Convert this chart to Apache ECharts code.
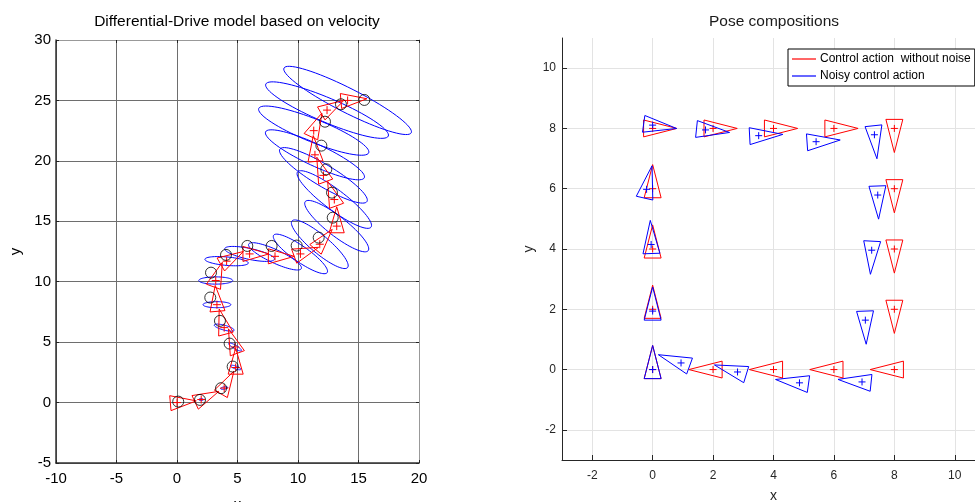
<!DOCTYPE html>
<html>
<head>
<meta charset="utf-8">
<script src="https://cdn.jsdelivr.net/npm/echarts@6/dist/echarts.min.js"></script>
<style>
  html, body { margin: 0; padding: 0; background: #fff; }
  #main { width: 975px; height: 502px; }
</style>
</head>
<body>
<div id="main"></div>
<script>
// 左图: 真实位姿 (黑圈)
let trueX = [0.1, 1.9, 3.64, 4.6, 4.35, 3.55, 2.75, 2.81, 4.05, 5.81, 7.82, 9.89, 11.71, 12.87, 12.81, 12.34, 11.93, 12.23, 13.55, 15.48];
let trueY = [0.08, 0.22, 1.19, 2.98, 4.88, 6.76, 8.69, 10.75, 12.22, 12.96, 12.96, 12.99, 13.65, 15.3, 17.37, 19.3, 21.26, 23.24, 24.68, 25.04];
// 左图: 估计位姿 (红三角)
let estX = [0.0, 2.0, 3.9, 4.85, 4.8, 3.9, 3.3, 3.2, 4.1, 6.0, 8.1, 10.2, 11.8, 13.2, 13.0, 12.1, 11.4, 11.3, 12.4, 14.1];
let estY = [0.0, 0.25, 1.2, 2.9, 4.6, 6.2, 8.1, 10.1, 11.7, 12.3, 12.1, 12.3, 13.1, 14.6, 16.8, 18.8, 20.5, 22.5, 24.2, 25.0];
let estTh = [5, 25, 60, 90, 110, 105, 95, 70, 30, 0, 0, 20, 50, 90, 110, 110, 95, 65, 30, 5];
// 协方差椭圆
let ellA = [0, 0.2, 0.3, 0.45, 0.6, 0.85, 1.15, 1.4, 1.8, 2.1, 2.4, 2.7, 3.0, 3.3, 3.8, 4.2, 4.5, 4.9, 5.5, 5.9];
let ellB = [0, 0.08, 0.1, 0.12, 0.15, 0.2, 0.25, 0.3, 0.35, 0.45, 0.55, 0.65, 0.75, 0.8, 0.85, 0.9, 0.9, 0.95, 1.0, 1.0];
let ellAng = [0, 0, 10, -20, -30, -15, 0, 0, -5, -12, -25, -35, -40, -38, -37, -31, -25, -22, -23, -27];

// 右图: 无噪声控制 (红)
let ctrlX = [0, 0, 0, 0, 0, 2, 4, 6, 8, 8, 8, 8, 8, 6, 4, 2];
let ctrlY = [0, 2, 4, 6, 8, 8, 8, 8, 8, 6, 4, 2, 0, 0, 0, 0];
let ctrlTh = [90, 90, 90, 90, 0, 0, 0, 0, -90, -90, -90, -90, 180, 180, 180, 180];
// 右图: 有噪声控制 (蓝)
let noisyX = [0, 0, -0.05, -0.2, 0, 1.75, 3.51, 5.41, 7.34, 7.45, 7.25, 7.04, 6.93, 4.86, 2.81, 0.94];
let noisyY = [0, 1.94, 4.15, 5.98, 8.11, 7.95, 7.76, 7.56, 7.79, 5.79, 3.96, 1.64, -0.41, -0.44, -0.08, 0.22];
let noisyTh = [90, 90, 92, 77, -8, -6, 3, 4, -84, -88, -93, -88, 174, 172, 163, 160];

let leftTicks = [-10, -5, 0, 5, 10, 15, 20];
let rightTicks = [-2, 0, 2, 4, 6, 8, 10];

function rows() {
    let arrs = arguments, out = [];
    for (let i = 0; i < arrs[0].length; i++) {
        let r = [];
        for (let k = 0; k < arrs.length; k++) r.push(arrs[k][i]);
        out.push(r);
    }
    return out;
}

// 三角形 (朝向)
function triRender(fwd, back, hw, color) {
    return function (params, api) {
        let x = api.value(0), y = api.value(1), t = api.value(2) * Math.PI / 180;
        let c = Math.cos(t), s = Math.sin(t);
        let local = [[fwd, 0], [-back, hw], [-back, -hw]];
        let pts = local.map(function (p) {
            return api.coord([x + p[0] * c - p[1] * s, y + p[0] * s + p[1] * c]);
        });
        return {type: 'polygon', shape: {points: pts}, style: {fill: 'none', stroke: color, lineWidth: 1}};
    };
}

// 十字标记
function plusRender(half, color) {
    return function (params, api) {
        let p = api.coord([api.value(0), api.value(1)]);
        return {
            type: 'group', children: [
                {type: 'line', shape: {x1: p[0] - half, y1: p[1], x2: p[0] + half, y2: p[1]}, style: {stroke: color, lineWidth: 1}},
                {type: 'line', shape: {x1: p[0], y1: p[1] - half, x2: p[0], y2: p[1] + half}, style: {stroke: color, lineWidth: 1}}
            ]
        };
    };
}

// 椭圆
function ellRender(params, api) {
    let cx = api.value(0), cy = api.value(1), a = api.value(2), b = api.value(3);
    let t = api.value(4) * Math.PI / 180;
    if (a <= 0) return null;
    let pts = [];
    for (let i = 0; i < 72; i++) {
        let u = i / 72 * Math.PI * 2;
        let ex = a * Math.cos(u), ey = b * Math.sin(u);
        pts.push(api.coord([cx + ex * Math.cos(t) - ey * Math.sin(t), cy + ex * Math.sin(t) + ey * Math.cos(t)]));
    }
    return {type: 'polygon', shape: {points: pts}, style: {fill: 'none', stroke: '#0000ff', lineWidth: 1}};
}

let myChart = echarts.init(document.getElementById('main'));
let font = 'Liberation Sans, Arial, sans-serif';

let option = {
    animation: false,
    backgroundColor: '#fff',
    title: [
        {text: 'Differential-Drive model based on velocity', left: 237, top: 14, textAlign: 'center', padding: 0,
            textStyle: {fontFamily: font, fontSize: 15.5, fontWeight: 'normal', color: '#000'}},
        {text: 'Pose compositions', left: 774, top: 14, textAlign: 'center', padding: 0,
            textStyle: {fontFamily: font, fontSize: 15.5, fontWeight: 'normal', color: '#1a1a1a'}}
    ],
    legend: {
        data: ['Control action  without noise', 'Noisy control action'],
        orient: 'vertical',
        left: 788, top: 49,
        padding: [4, 4, 4, 4],
        itemGap: 5,
        itemWidth: 24,
        itemHeight: 1.2,
        icon: 'rect',
        borderColor: '#000', borderWidth: 1,
        backgroundColor: '#fff',
        selectedMode: false,
        textStyle: {fontFamily: font, fontSize: 12, color: '#000', padding: [0, 0, 0, -1]}
    },
    grid: [
        {left: 56, top: 40, width: 363, height: 423, outerBoundsMode: 'none', containLabel: false},
        {left: 562, top: 38, width: 423, height: 422, outerBoundsMode: 'none', containLabel: false}
    ],
    xAxis: [
        {
            gridIndex: 0, type: 'value', min: -10, max: 20, interval: 5, name: 'x',
            nameLocation: 'middle', nameGap: 34,
            nameTextStyle: {fontFamily: font, fontSize: 15, color: '#000'},
            axisLine: {onZero: false, lineStyle: {color: '#333', width: 1.5}},
            axisTick: {inside: true, length: 3, lineStyle: {color: '#222'}},
            axisLabel: {fontFamily: font, fontSize: 15, color: '#000', margin: 8,
                formatter: function (v) { return leftTicks.indexOf(v) >= 0 ? String(v) : ''; }},
            splitLine: {show: true, lineStyle: {color: '#6e6e6e', width: 1}}
        },
        {
            gridIndex: 0, type: 'value', position: 'top', min: -10, max: 20, interval: 5,
            axisLine: {onZero: false, lineStyle: {color: '#999', width: 1}},
            axisTick: {inside: true, length: 3, lineStyle: {color: '#222'}},
            axisLabel: {show: false}, splitLine: {show: false}
        },
        {
            gridIndex: 1, type: 'value', min: -3, max: 11, name: 'x',
            nameLocation: 'middle', nameGap: 29,
            nameTextStyle: {fontFamily: font, fontSize: 14, color: '#262626'},
            axisLine: {onZero: false, lineStyle: {color: '#262626', width: 1}},
            axisTick: {inside: true, length: 5, lineStyle: {color: '#262626'}, customValues: rightTicks},
            axisLabel: {fontFamily: font, fontSize: 12, color: '#262626', margin: 10, customValues: rightTicks},
            splitLine: {show: true, lineStyle: {color: '#e3e3e3', width: 1}}
        }
    ],
    yAxis: [
        {
            gridIndex: 0, type: 'value', min: -5, max: 30, interval: 5, name: 'y',
            nameLocation: 'middle', nameGap: 33, nameRotate: 90,
            nameTextStyle: {fontFamily: font, fontSize: 15, color: '#000'},
            axisLine: {onZero: false, lineStyle: {color: '#333', width: 1.5}},
            axisTick: {inside: true, length: 3, lineStyle: {color: '#222'}},
            axisLabel: {fontFamily: font, fontSize: 15, color: '#000', margin: 5},
            splitLine: {show: true, lineStyle: {color: '#6e6e6e', width: 1}}
        },
        {
            gridIndex: 0, type: 'value', position: 'right', min: -5, max: 30, interval: 5,
            axisLine: {onZero: false, lineStyle: {color: '#999', width: 1}},
            axisTick: {inside: true, length: 3, lineStyle: {color: '#222'}},
            axisLabel: {show: false}, splitLine: {show: false}
        },
        {
            gridIndex: 1, type: 'value', min: -3, max: 11, name: 'y',
            nameLocation: 'middle', nameGap: 26, nameRotate: 90,
            nameTextStyle: {fontFamily: font, fontSize: 14, color: '#262626'},
            axisLine: {onZero: false, lineStyle: {color: '#262626', width: 1}},
            axisTick: {inside: true, length: 5, lineStyle: {color: '#262626'}, customValues: rightTicks},
            axisLabel: {fontFamily: font, fontSize: 12, color: '#262626', margin: 6, customValues: rightTicks},
            splitLine: {show: true, lineStyle: {color: '#e3e3e3', width: 1}}
        }
    ],
    series: [
        {
            name: 'ellipses', type: 'custom', xAxisIndex: 0, yAxisIndex: 0, clip: true,
            renderItem: ellRender, data: rows(estX, estY, ellA, ellB, ellAng), silent: true
        },
        {
            name: 'estTri', type: 'custom', xAxisIndex: 0, yAxisIndex: 0, clip: true,
            renderItem: triRender(1.6, 0.55, 0.62, '#ff0000'), data: rows(estX, estY, estTh), silent: true
        },
        {
            name: 'estPlus', type: 'custom', xAxisIndex: 0, yAxisIndex: 0, clip: true,
            renderItem: plusRender(4, '#ff0000'), data: rows(estX, estY), silent: true
        },
        {
            name: 'true', type: 'scatter', xAxisIndex: 0, yAxisIndex: 0,
            symbol: 'circle', symbolSize: 11,
            itemStyle: {color: 'rgba(0,0,0,0)', borderColor: '#000', borderWidth: 1},
            data: rows(trueX, trueY), silent: true
        },
        {
            name: 'Control action  without noise', type: 'custom', xAxisIndex: 2, yAxisIndex: 2, clip: true,
            itemStyle: {color: '#ff0000'},
            renderItem: triRender(0.8, 0.3, 0.28, '#ff0000'), data: rows(ctrlX, ctrlY, ctrlTh), silent: true
        },
        {
            name: 'ctrlPlus', type: 'custom', xAxisIndex: 2, yAxisIndex: 2, clip: true,
            renderItem: plusRender(3.5, '#ff0000'), data: rows(ctrlX, ctrlY), silent: true
        },
        {
            name: 'Noisy control action', type: 'custom', xAxisIndex: 2, yAxisIndex: 2, clip: true,
            itemStyle: {color: '#0000ff'},
            renderItem: triRender(0.8, 0.3, 0.28, '#0000ff'), data: rows(noisyX, noisyY, noisyTh), silent: true
        },
        {
            name: 'noisyPlus', type: 'custom', xAxisIndex: 2, yAxisIndex: 2, clip: true,
            renderItem: plusRender(3.5, '#0000ff'), data: rows(noisyX, noisyY), silent: true
        }
    ]
};
myChart.setOption(option);
</script>
</body>
</html>
